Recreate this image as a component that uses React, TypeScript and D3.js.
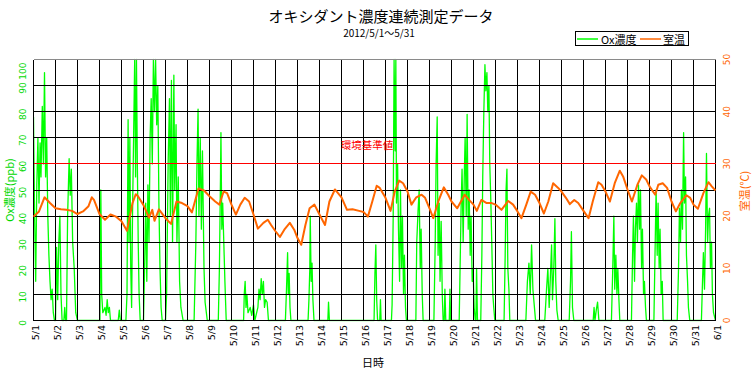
import React, { useEffect, useRef } from 'react';
import * as d3 from 'd3';

const TITLE = 'オキシダント濃度連続測定データ';
const SUBTITLE = '2012/5/1～5/31';

// x-axis: one tick per day, 5/1 00:00 = 0
const DATE_LABELS = [
  '5/1', '5/2', '5/3', '5/4', '5/5', '5/6', '5/7', '5/8', '5/9', '5/10',
  '5/11', '5/12', '5/13', '5/14', '5/15', '5/16', '5/17', '5/18', '5/19', '5/20',
  '5/21', '5/22', '5/23', '5/24', '5/25', '5/26', '5/27', '5/28', '5/29', '5/30',
  '5/31', '6/1',
];
const OX_TICKS = [0, 10, 20, 30, 40, 50, 60, 70, 80, 90, 100];
const TEMP_TICKS = [0, 10, 20, 30, 40, 50];
const OX_LIMIT = 60; // 環境基準値

// [day offset, ppb]
const OX_SERIES: [number, number][] = [
  [0, 78], [0.05, 40], [0.1, 15], [0.15, 52], [0.2, 70], [0.25, 45], [0.3, 68], [0.34, 55], [0.4, 82], [0.45, 60],
  [0.5, 95], [0.55, 55], [0.6, 70], [0.65, 40], [0.7, 25], [0.75, 15], [0.8, 8], [0.85, 12], [0.9, 3], [0.95, 0],
  [1.0, 0], [1.05, 28], [1.1, 8], [1.15, 30], [1.2, 40], [1.25, 10], [1.3, 0], [1.38, 0], [1.42, 5], [1.46, 0],
  [1.5, 0], [1.55, 40], [1.62, 62], [1.67, 48], [1.72, 58], [1.78, 30], [1.85, 20], [1.92, 3], [2.0, 0],
  [3.02, 0], [3.06, 50], [3.1, 10], [3.15, 3], [3.25, 5], [3.3, 2], [3.35, 8], [3.4, 3], [3.45, 5], [3.5, 0],
  [3.85, 0], [3.9, 4], [3.95, 0], [4.2, 0], [4.25, 10], [4.3, 77], [4.34, 30], [4.38, 70], [4.42, 20], [4.46, 5],
  [4.5, 40], [4.55, 70], [4.6, 100], [4.64, 55], [4.68, 100], [4.72, 60], [4.76, 30], [4.8, 10], [4.85, 0],
  [5.0, 0], [5.05, 20], [5.1, 45], [5.15, 15], [5.2, 52], [5.25, 30], [5.3, 70], [5.35, 85], [5.4, 60], [5.45, 100],
  [5.5, 80], [5.55, 100], [5.6, 75], [5.65, 90], [5.7, 45], [5.75, 20], [5.8, 5], [5.85, 0],
  [6.0, 0], [6.05, 10], [6.12, 60], [6.18, 85], [6.22, 40], [6.27, 92], [6.32, 30], [6.38, 94], [6.42, 50], [6.48, 75],
  [6.52, 30], [6.58, 55], [6.64, 15], [6.7, 5], [6.8, 0],
  [7.3, 0], [7.38, 30], [7.43, 60], [7.48, 81], [7.52, 40], [7.58, 70], [7.63, 35], [7.68, 65], [7.75, 20], [7.8, 7], [7.9, 0],
  [8.4, 0], [8.45, 20], [8.5, 55], [8.52, 72], [8.56, 35], [8.6, 45], [8.65, 30], [8.7, 15], [8.76, 0],
  [9.55, 0], [9.58, 10], [9.62, 15], [9.66, 5], [9.7, 10], [9.75, 3], [9.85, 5], [9.92, 2], [10.0, 6], [10.06, 0],
  [10.2, 5], [10.25, 12], [10.3, 8], [10.35, 16], [10.4, 10], [10.45, 15], [10.5, 5], [10.55, 8], [10.62, 7], [10.68, 0],
  [11.45, 0], [11.5, 12], [11.55, 26], [11.58, 10], [11.62, 18], [11.66, 5], [11.7, 0],
  [12.48, 0], [12.52, 8], [12.56, 20], [12.58, 40], [12.62, 15], [12.66, 22], [12.7, 8], [12.75, 0],
  [13.38, 0], [13.41, 7], [13.45, 0],
  [15.48, 0], [15.52, 18], [15.56, 29], [15.6, 8], [15.64, 0], [15.74, 0], [15.77, 8], [15.8, 0],
  [16.27, 0], [16.3, 6], [16.35, 40], [16.39, 100], [16.44, 65], [16.47, 100], [16.5, 45], [16.55, 60], [16.59, 35],
  [16.64, 15], [16.68, 50], [16.73, 20], [16.77, 40], [16.82, 10], [16.86, 25], [16.91, 5], [16.95, 0],
  [17.38, 0], [17.42, 30], [17.48, 42], [17.53, 50], [17.58, 20], [17.62, 35], [17.67, 10], [17.71, 0],
  [18.2, 0], [18.26, 30], [18.3, 60], [18.35, 78], [18.39, 25], [18.44, 45], [18.48, 15], [18.53, 38], [18.58, 10], [18.62, 0],
  [18.67, 0], [18.7, 12], [18.74, 0], [18.9, 0], [18.93, 12], [18.96, 0],
  [19.35, 0], [19.39, 20], [19.44, 45], [19.48, 58], [19.53, 30], [19.58, 55], [19.62, 70], [19.67, 40], [19.71, 79],
  [19.76, 35], [19.8, 50], [19.85, 25], [19.89, 40], [19.94, 15], [19.98, 20], [20.03, 5], [20.08, 0],
  [20.11, 0], [20.14, 20], [20.18, 0],
  [20.33, 0], [20.38, 25], [20.42, 55], [20.47, 80], [20.52, 98], [20.56, 88], [20.61, 95], [20.65, 80], [20.7, 90],
  [20.74, 60], [20.79, 45], [20.83, 30], [20.88, 10], [20.92, 5], [20.97, 0],
  [21.39, 0], [21.44, 25], [21.48, 50], [21.52, 58], [21.56, 20], [21.61, 12], [21.65, 0],
  [22.38, 0], [22.45, 15], [22.52, 22], [22.58, 10], [22.64, 29], [22.7, 12], [22.76, 6], [22.82, 0],
  [23.24, 0], [23.32, 12], [23.38, 20], [23.44, 5], [23.5, 18], [23.55, 29], [23.59, 8], [23.65, 20], [23.7, 39],
  [23.74, 15], [23.79, 4], [23.85, 0],
  [24.35, 0], [24.41, 15], [24.45, 34], [24.5, 5], [24.56, 0],
  [25.44, 0], [25.48, 5], [25.52, 0], [25.58, 4], [25.64, 7], [25.7, 0],
  [26.27, 0], [26.33, 20], [26.38, 40], [26.42, 12], [26.47, 25], [26.52, 10], [26.56, 20], [26.61, 8], [26.65, 0],
  [27.18, 0], [27.23, 25], [27.27, 40], [27.32, 15], [27.36, 35], [27.41, 45], [27.45, 30], [27.5, 52], [27.55, 35],
  [27.59, 50], [27.64, 20], [27.68, 35], [27.73, 10], [27.77, 15], [27.82, 5], [27.86, 0],
  [28.2, 0], [28.26, 30], [28.3, 50], [28.35, 25], [28.39, 45], [28.44, 20], [28.48, 35], [28.53, 10], [28.58, 15], [28.62, 0],
  [29.26, 0], [29.32, 20], [29.36, 43], [29.41, 30], [29.45, 50], [29.5, 35], [29.55, 72], [29.59, 45], [29.64, 55],
  [29.68, 25], [29.73, 15], [29.77, 5], [29.83, 0],
  [30.36, 0], [30.41, 15], [30.45, 26], [30.5, 12], [30.55, 35], [30.59, 64], [30.64, 30], [30.68, 40], [30.73, 43],
  [30.77, 20], [30.82, 30], [30.86, 10], [30.91, 3], [31, 0],
];

// [day offset, °C]
const TEMP_SERIES: [number, number][] = [
  [0, 19.9], [0.25, 20.9], [0.5, 23.6], [0.75, 22.5], [1, 21.5], [1.25, 21.3], [1.5, 21.2], [1.75, 21.0],
  [2, 20.4], [2.25, 20.9], [2.5, 21.9], [2.65, 23.6], [2.75, 23.1], [3, 20.4], [3.25, 19.3], [3.5, 20.3],
  [3.75, 19.9], [4, 19.0], [4.25, 17.2], [4.5, 22.5], [4.65, 24.2], [4.75, 23.8], [5, 22.1], [5.25, 19.7],
  [5.4, 21.2], [5.5, 19.1], [5.7, 21.3], [6, 19.6], [6.25, 18.5], [6.5, 22.8], [6.75, 22.5], [7, 21.9],
  [7.2, 20.7], [7.5, 25.3], [7.75, 24.9], [8, 23.8], [8.26, 22.8], [8.45, 22.2], [8.64, 24.7], [8.8, 24.4],
  [9, 22.2], [9.2, 20.3], [9.4, 22.2], [9.6, 23.5], [9.8, 22.8], [10, 20.3], [10.2, 17.6], [10.45, 18.7],
  [10.65, 19.3], [10.8, 18.3], [11, 17.1], [11.2, 16.0], [11.4, 17.4], [11.65, 18.7], [11.85, 17.4], [12, 15.8],
  [12.17, 14.5], [12.36, 18.3], [12.55, 21.5], [12.77, 22.2], [13, 20.3], [13.25, 18.3], [13.45, 22.8], [13.7, 25.1],
  [14, 23.6], [14.25, 21.2], [14.5, 21.3], [14.8, 21.0], [15, 20.8], [15.2, 19.9], [15.4, 22.8], [15.6, 25.8],
  [15.74, 25.4], [16, 23.5], [16.23, 21.0], [16.42, 24.7], [16.62, 26.8], [16.8, 26.3], [17, 24.7], [17.18, 22.2],
  [17.4, 23.6], [17.64, 24.1], [17.8, 23.5], [18, 21.5], [18.17, 19.6], [18.4, 22.8], [18.65, 25.5], [18.85, 24.1],
  [19, 22.8], [19.26, 21.5], [19.6, 24.1], [19.8, 23.1], [20, 22.2], [20.15, 21.0], [20.36, 23.1], [20.6, 22.5],
  [20.83, 22.5], [21, 22.2], [21.27, 21.2], [21.58, 22.9], [21.8, 22.2], [22, 20.9], [22.18, 19.6], [22.4, 22.2],
  [22.6, 24.7], [22.8, 24.1], [23, 22.5], [23.2, 20.5], [23.4, 22.8], [23.62, 26.3], [23.85, 25.4], [24, 24.7],
  [24.2, 23.5], [24.38, 22.3], [24.58, 23.1], [24.76, 22.5], [25, 21.0], [25.23, 19.6], [25.42, 22.8], [25.67, 26.5],
  [25.82, 26.0], [26, 24.7], [26.2, 22.8], [26.42, 26.3], [26.65, 28.7], [26.8, 27.6], [27, 25.1], [27.2, 22.8],
  [27.45, 26.0], [27.65, 27.8], [27.85, 27.0], [28, 25.7], [28.26, 24.1], [28.4, 26.0], [28.6, 26.3], [28.8, 25.4],
  [29, 22.8], [29.2, 20.9], [29.4, 22.5], [29.68, 24.0], [29.85, 23.5], [30, 22.2], [30.2, 21.4], [30.45, 24.4],
  [30.68, 26.5], [30.83, 25.7], [31, 24.9],
];

const GREEN = '#00ff00';
const GREEN_TEXT = '#00d800';
const ORANGE = '#ff6600';
const JP = '"Noto Sans CJK JP", "Noto Sans", sans-serif';
const NUM = '"DejaVu Sans", sans-serif';

export default function App() {
  const ref = useRef<SVGSVGElement>(null);

  useEffect(() => {
    const svg = d3.select(ref.current);
    svg.selectAll('*').remove();

    const W = 756;
    const H = 374;
    const plot = { left: 33.5, right: 715.5, top: 59.5, bottom: 320.5 };

    const x = d3.scaleLinear().domain([0, DATE_LABELS.length - 1]).range([plot.left, plot.right]);
    const yOx = d3.scaleLinear().domain([0, 100]).range([plot.bottom, plot.top]);
    const yTemp = d3.scaleLinear().domain([0, 50]).range([plot.bottom, plot.top]);

    svg.append('rect').attr('width', W).attr('height', H).attr('fill', '#fff');

    // titles
    svg.append('text')
      .attr('x', 381).attr('y', 21.5)
      .attr('text-anchor', 'middle')
      .attr('font-family', JP).attr('font-size', '15px').attr('fill', '#000')
      .text(TITLE);
    svg.append('text')
      .attr('x', 379).attr('y', 36.5)
      .attr('text-anchor', 'middle')
      .attr('font-family', JP).attr('font-size', '10px').attr('fill', '#000')
      .text(SUBTITLE);

    // legend
    const lg = svg.append('g');
    lg.append('rect')
      .attr('x', 575.5).attr('y', 31.5).attr('width', 113).attr('height', 14)
      .attr('fill', '#fff').attr('stroke', '#000');
    lg.append('line').attr('x1', 577).attr('x2', 598).attr('y1', 39).attr('y2', 39)
      .attr('stroke', GREEN).attr('stroke-width', 1.5);
    lg.append('text').attr('x', 601).attr('y', 43.5)
      .attr('font-family', JP).attr('font-size', '11px').text('Ox濃度');
    lg.append('line').attr('x1', 640).attr('x2', 661).attr('y1', 39).attr('y2', 39)
      .attr('stroke', ORANGE).attr('stroke-width', 1.5);
    lg.append('text').attr('x', 663).attr('y', 43.5)
      .attr('font-family', JP).attr('font-size', '11px').text('室温');

    const clipId = 'plot-clip';
    svg.append('clipPath').attr('id', clipId)
      .append('rect')
      .attr('x', plot.left).attr('y', plot.top - 1)
      .attr('width', plot.right - plot.left).attr('height', plot.bottom - plot.top + 2);

    // Ox line (under the grid)
    const oxLine = d3.line<[number, number]>()
      .x((d) => x(d[0]))
      .y((d) => yOx(d[1]));
    svg.append('path')
      .datum(OX_SERIES)
      .attr('clip-path', `url(#${clipId})`)
      .attr('d', oxLine)
      .attr('fill', 'none')
      .attr('stroke', GREEN)
      .attr('stroke-width', 1.3)
      .attr('stroke-linejoin', 'round');

    // grid
    const grid = svg.append('g').attr('shape-rendering', 'crispEdges');
    DATE_LABELS.forEach((_, i) => {
      grid.append('line')
        .attr('x1', x(i)).attr('x2', x(i))
        .attr('y1', plot.top).attr('y2', plot.bottom)
        .attr('stroke', '#000');
    });
    OX_TICKS.forEach((t) => {
      grid.append('line')
        .attr('x1', plot.left).attr('x2', plot.right)
        .attr('y1', yOx(t)).attr('y2', yOx(t))
        .attr('stroke', t === 100 ? '#8a8a8a' : '#000');
    });

    // 環境基準値
    svg.append('line')
      .attr('shape-rendering', 'crispEdges')
      .attr('x1', plot.left).attr('x2', plot.right)
      .attr('y1', yOx(OX_LIMIT)).attr('y2', yOx(OX_LIMIT))
      .attr('stroke', '#ff0000');
    svg.append('text')
      .attr('x', 367).attr('y', 149)
      .attr('text-anchor', 'middle')
      .attr('font-family', JP).attr('font-size', '10.5px').attr('fill', '#ff0000')
      .text('環境基準値');

    // temperature line
    const tempLine = d3.line<[number, number]>()
      .x((d) => x(d[0]))
      .y((d) => yTemp(d[1]));
    svg.append('path')
      .datum(TEMP_SERIES)
      .attr('d', tempLine)
      .attr('fill', 'none')
      .attr('stroke', ORANGE)
      .attr('stroke-width', 2)
      .attr('stroke-linejoin', 'round');

    // left axis labels (rotated)
    OX_TICKS.forEach((t) => {
      const label = String(t);
      const half = label.length * 3.2;
      const cy = Math.max(yOx(t) + 2.5, plot.top + half + 2);
      svg.append('text')
        .attr('transform', `translate(22.5,${cy}) rotate(-90)`)
        .attr('text-anchor', 'middle')
        .attr('dominant-baseline', 'central')
        .attr('font-family', NUM).attr('font-size', '9px').attr('fill', GREEN_TEXT)
        .text(label);
    });
    svg.append('text')
      .attr('transform', `translate(9,190) rotate(-90)`)
      .attr('text-anchor', 'middle')
      .attr('dominant-baseline', 'central')
      .attr('font-family', JP).attr('font-size', '11px').attr('fill', GREEN_TEXT)
      .text('Ox濃度(ppb)');

    // right axis labels (rotated)
    TEMP_TICKS.forEach((t) => {
      svg.append('text')
        .attr('transform', `translate(726.5,${yTemp(t)}) rotate(-90)`)
        .attr('text-anchor', 'middle')
        .attr('dominant-baseline', 'central')
        .attr('font-family', NUM).attr('font-size', '9px').attr('fill', ORANGE)
        .text(String(t));
    });
    svg.append('text')
      .attr('transform', `translate(743.5,191) rotate(-90)`)
      .attr('text-anchor', 'middle')
      .attr('dominant-baseline', 'central')
      .attr('font-family', JP).attr('font-size', '11px').attr('fill', ORANGE)
      .text('室温(℃)');

    // x axis labels
    DATE_LABELS.forEach((lab, i) => {
      svg.append('text')
        .attr('transform', `translate(${x(i) + 1.5},325) rotate(-90)`)
        .attr('text-anchor', 'end')
        .attr('dominant-baseline', 'central')
        .attr('font-family', NUM).attr('font-size', '9.5px').attr('fill', '#000')
        .text(lab);
    });
    svg.append('text')
      .attr('x', 373).attr('y', 367)
      .attr('text-anchor', 'middle')
      .attr('font-family', JP).attr('font-size', '11px').attr('fill', '#000')
      .text('日時');
  }, []);

  return (
    <svg
      ref={ref}
      width={756}
      height={374}
      style={{ position: 'absolute', left: 0, top: 0, display: 'block' }}
    />
  );
}
